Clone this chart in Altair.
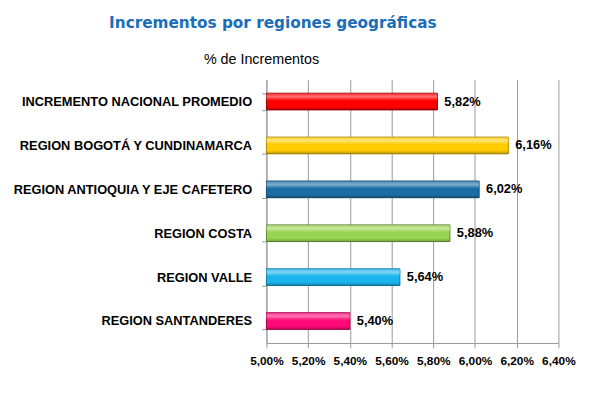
import altair as alt
import pandas as pd

regions = [
    "INCREMENTO NACIONAL PROMEDIO",
    "REGION BOGOTÁ Y CUNDINAMARCA",
    "REGION ANTIOQUIA Y EJE CAFETERO",
    "REGION COSTA",
    "REGION VALLE",
    "REGION SANTANDERES",
]
values = [5.82, 6.16, 6.02, 5.88, 5.64, 5.40]
colors = ["#FF0000", "#FFCC00", "#1A6EA6", "#99D452", "#1AB4EE", "#FF0A78"]
strokes = ["#A00000", "#B08A00", "#0E4A73", "#5E8A2E", "#0E7AA8", "#A8004C"]
x_ticks = [5.0, 5.2, 5.4, 5.6, 5.8, 6.0, 6.2, 6.4]
title_text = "Incrementos por regiones geográficas"
subtitle_text = "% de Incrementos"

df = pd.DataFrame({"region": regions, "value": values})
df["label"] = df["value"].map(lambda v: f"{v:.2f}".replace(".", ",") + "%")

y = alt.Y("region:N", sort=regions, title=None,
          scale=alt.Scale(paddingInner=0.62, paddingOuter=0.31),
          axis=alt.Axis(labelFont="Liberation Sans", labelFontWeight="bold",
                        labelFontSize=13, labelColor="#000000", labelPadding=10,
                        domainColor="#999999", tickColor="#999999", tickSize=5,
                        tickBand="extent", grid=False, labelLimit=300))
x = alt.X("value:Q", title=None,
          scale=alt.Scale(domain=[5.0, 6.4], nice=False, zero=False),
          axis=alt.Axis(values=x_ticks,
                        labelExpr="replace(format(datum.value, '.2f'), '.', ',') + '%'",
                        labelFont="Liberation Sans", labelFontWeight="bold",
                        labelFontSize=12, labelColor="#000000", labelPadding=8,
                        domainColor="#999999", tickColor="#999999", tickSize=5,
                        gridColor="#999999", gridWidth=1, labelFlush=False))

base = alt.Chart(df)
bars = base.mark_bar(strokeWidth=1).encode(
    y=y, x=x, x2=alt.datum(5.0),
    color=alt.Color("region:N", scale=alt.Scale(domain=regions, range=colors), legend=None),
    stroke=alt.Stroke("region:N", scale=alt.Scale(domain=regions, range=strokes), legend=None),
)
shine = base.mark_bar(
    strokeWidth=0,
    fill=alt.Gradient(
        gradient="linear", x1=0, y1=0, x2=0, y2=1,
        stops=[
            alt.GradientStop(offset=0, color="rgba(255,255,255,0.15)"),
            alt.GradientStop(offset=0.2, color="rgba(255,255,255,0.45)"),
            alt.GradientStop(offset=0.45, color="rgba(255,255,255,0.0)"),
            alt.GradientStop(offset=0.8, color="rgba(0,0,0,0.0)"),
            alt.GradientStop(offset=1, color="rgba(0,0,0,0.25)"),
        ],
    ),
).encode(y=alt.Y("region:N", sort=regions), x="value:Q", x2=alt.datum(5.0))

labels = base.mark_text(align="left", dx=7, font="Liberation Sans",
                        fontWeight="bold", fontSize=13, color="#000000").encode(
    y=alt.Y("region:N", sort=regions), x="value:Q", text="label:N")

sub = alt.Chart(pd.DataFrame({"t": [subtitle_text]})).mark_text(
    font="Liberation Sans", fontSize=14.5, color="#000000", baseline="middle"
).encode(x=alt.value(-5), y=alt.value(-20), text="t:N")

ttl = alt.Chart(pd.DataFrame({"t": [title_text]})).mark_text(
    font="DejaVu Sans", fontWeight="bold", fontSize=15.5, color="#1A6DB8",
    baseline="middle"
).encode(x=alt.value(6.5), y=alt.value(-57), text="t:N")

chart = alt.layer(bars, shine, labels, sub, ttl).properties(
    width=296, height=267,
    autosize=alt.AutoSizeParams(type="none"),
    padding={"left": 262, "top": 70, "right": 29, "bottom": 41},
).configure_view(stroke=None)

chart.save("out.html", embed_options={"renderer": "svg", "actions": False})
